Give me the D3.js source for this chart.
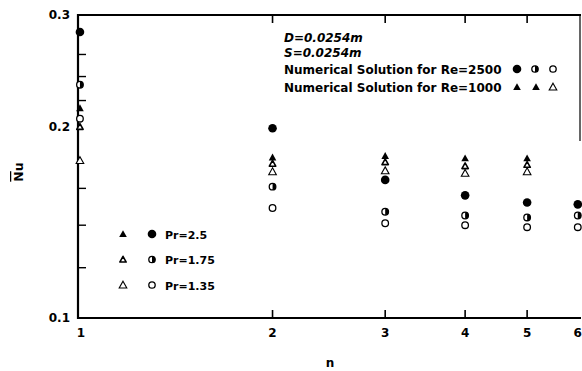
<!DOCTYPE html>
<html>
<head>
<meta charset="utf-8">
<script src="https://cdn.jsdelivr.net/npm/d3@7"></script>
<style>
  html, body { margin: 0; padding: 0; background: #fff; }
  svg { display: block; font-family: "DejaVu Sans", "Liberation Sans", Arial, sans-serif; font-weight: bold; }
</style>
</head>
<body>
<svg id="chart" width="582" height="371"></svg>
<script>
// Number of tube rows
const nValues = [1, 2, 3, 4, 5, 6];
const nValuesRe1000 = [1, 2, 3, 4, 5];

// Mean Nusselt number, Re = 2500 (circles)
const re2500Pr25  = [0.282, 0.199, 0.165, 0.156, 0.152, 0.151];
const re2500Pr175 = [0.233, 0.161, 0.147, 0.145, 0.144, 0.145];
const re2500Pr135 = [0.206, 0.149, 0.141, 0.140, 0.139, 0.139];

// Mean Nusselt number, Re = 1000 (triangles)
const re1000Pr25  = [0.214, 0.179, 0.180, 0.1785, 0.1785];
const re1000Pr175 = [0.200, 0.175, 0.176, 0.1735, 0.1743];
const re1000Pr135 = [0.177, 0.170, 0.1706, 0.169, 0.170];

const xTicks = [1, 2, 3, 4, 5, 6];
const xInnerTicks = [2, 3, 4, 5];
const yTickLabels = [0.1, 0.2, 0.3];
const yMinorTicks = [0.12, 0.14, 0.16, 0.22, 0.24, 0.26];

const infoLines = ["D=0.0254m", "S=0.0254m", "Numerical Solution for Re=2500", "Numerical Solution for Re=1000"];
const prLabels = ["Pr=2.5", "Pr=1.75", "Pr=1.35"];

const svg = d3.select("#chart");
const x = d3.scaleLog().domain([0.993, 6.07]).range([78, 581]);
const y = d3.scaleLog().domain([0.1, 0.3]).range([318, 15]);
const [x0, x1] = x.range();
const [yb, yt] = y.range();

const frame = svg.append("g").attr("stroke", "#000").attr("fill", "none");
// left, bottom, top borders, and the upper part of the right border
frame.append("line").attr("x1", x0).attr("x2", x0).attr("y1", yt - 1).attr("y2", yb + 1).attr("stroke-width", 2.2);
frame.append("line").attr("x1", x0).attr("x2", x1).attr("y1", yb).attr("y2", yb).attr("stroke-width", 2);
frame.append("line").attr("x1", x0).attr("x2", x1).attr("y1", yt).attr("y2", yt).attr("stroke-width", 1.8);
frame.append("line").attr("x1", x1 - 1).attr("x2", x1 - 1).attr("y1", yt).attr("y2", y(0.19)).attr("stroke-width", 1.2);

// inward ticks
xInnerTicks.forEach(t => {
  frame.append("line").attr("x1", x(t)).attr("x2", x(t)).attr("y1", yb).attr("y2", yb - 8).attr("stroke-width", 1.6);
  frame.append("line").attr("x1", x(t)).attr("x2", x(t)).attr("y1", yt).attr("y2", yt + 8).attr("stroke-width", 1.6);
});
yMinorTicks.forEach(t => {
  frame.append("line").attr("x1", x0).attr("x2", x0 + 8).attr("y1", y(t)).attr("y2", y(t)).attr("stroke-width", 1.4);
});

// tick labels
svg.append("g").selectAll("text").data(xTicks).join("text")
  .attr("x", d => x(d) + (d === 1 ? 1 : 0)).attr("y", 337)
  .attr("text-anchor", "middle").attr("font-size", 12).text(d => d);
svg.append("g").selectAll("text").data(yTickLabels).join("text")
  .attr("x", 70).attr("y", d => y(d) + 4)
  .attr("text-anchor", "end").attr("font-size", 12).text(d => d.toFixed(1));

// axis titles
svg.append("text").attr("x", 330).attr("y", 367).attr("text-anchor", "middle").attr("font-size", 12).text("n");
const yTitle = svg.append("text").attr("transform", "translate(23,172) rotate(-90)")
  .attr("text-anchor", "middle").attr("font-size", 12.5);
yTitle.append("tspan").attr("text-decoration", "overline").text("N");
yTitle.append("tspan").text("u");

// marker drawing
function circleMarker(g, cx, cy, kind, r) {
  if (kind === "filled") {
    g.append("circle").attr("cx", cx).attr("cy", cy).attr("r", r).attr("fill", "#000");
  } else if (kind === "half") {
    g.append("circle").attr("cx", cx).attr("cy", cy).attr("r", r).attr("fill", "#fff").attr("stroke", "#000").attr("stroke-width", 1.3);
    g.append("path").attr("d", `M${cx},${cy - r} A${r},${r} 0 0 1 ${cx},${cy + r} Z`).attr("fill", "#000");
  } else {
    g.append("circle").attr("cx", cx).attr("cy", cy).attr("r", r).attr("fill", "#fff").attr("stroke", "#000").attr("stroke-width", 1.3);
  }
}
function triMarker(g, cx, cy, kind) {
  const s = kind === "small" ? 3.2 : 3.8;
  const d = `M${cx},${cy - s} L${cx + s},${cy + s * 0.8} L${cx - s},${cy + s * 0.8} Z`;
  if (kind === "filled") g.append("path").attr("d", d).attr("fill", "#000");
  else if (kind === "small") g.append("path").attr("d", d).attr("fill", "#fff").attr("stroke", "#000").attr("stroke-width", 1.6).attr("stroke-linejoin", "round");
  else g.append("path").attr("d", d).attr("fill", "#fff").attr("stroke", "#000").attr("stroke-width", 1.1);
}

const marks = svg.append("g");
const circleSeries = [
  { values: re2500Pr25, kind: "filled", r: 4.3 },
  { values: re2500Pr175, kind: "half", r: 3.3 },
  { values: re2500Pr135, kind: "open", r: 3.3 }
];
const triSeries = [
  { values: re1000Pr135, kind: "open" },
  { values: re1000Pr175, kind: "small" },
  { values: re1000Pr25, kind: "filled" }
];
triSeries.forEach(s => s.values.forEach((v, i) => triMarker(marks, x(nValuesRe1000[i]), y(v), s.kind)));
circleSeries.forEach(s => s.values.forEach((v, i) => circleMarker(marks, x(nValues[i]), y(v), s.kind, s.r)));

// information block
const info = svg.append("g").attr("font-size", 12);
info.selectAll("text").data(infoLines).join("text")
  .attr("x", 284).attr("y", (d, i) => [42, 57, 74, 92][i])
  .attr("font-style", (d, i) => i < 2 ? "italic" : "normal")
  .text(d => d);
circleMarker(info, 517, 69, "filled", 4.3);
circleMarker(info, 535, 69, "half", 3.2);
circleMarker(info, 553, 69, "open", 3.2);
triMarker(info, 517, 87, "filled");
triMarker(info, 536, 87, "filled");
triMarker(info, 553, 87, "open");

// Prandtl legend
const prKinds = [["filled", "filled", 4.3], ["small", "half", 3.2], ["open", "open", 3.2]];
const legend = svg.append("g");
prLabels.forEach((label, i) => {
  const cy = 234 + i * 25.5;
  triMarker(legend, 123, cy, prKinds[i][0]);
  circleMarker(legend, 152, cy, prKinds[i][1], prKinds[i][2]);
  legend.append("text").attr("x", 165).attr("y", cy + 4.5).attr("font-size", 11).text(label);
});
</script>
</body>
</html>
